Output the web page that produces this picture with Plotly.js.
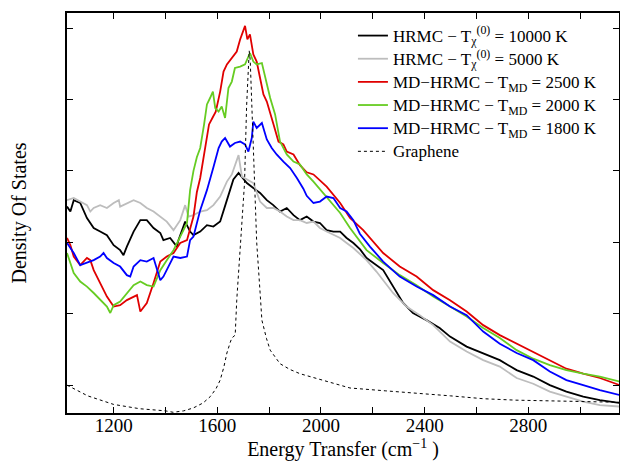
<!DOCTYPE html>
<html>
<head>
<meta charset="utf-8">
<script src="https://cdn.plot.ly/plotly-3.0.1.min.js"></script>
<style>html,body{margin:0;padding:0;background:#fff;}#chart{width:620px;height:461px;}</style>
</head>
<body>
<div id="chart"></div>
<script>
// [energy transfer (cm^-1), density of states (arb. units)]
const hrmc10000 = [[1020,2.50],[1033,2.43],[1046,2.59],[1071,2.55],[1097,2.34],[1123,2.20],[1148,2.15],[1174,2.10],[1200,1.96],[1225,1.89],[1238,1.82],[1251,1.94],[1277,2.15],[1303,2.31],[1328,2.31],[1354,2.20],[1380,2.13],[1392,2.03],[1418,2.06],[1444,1.94],[1450,2.03],[1476,2.29],[1495,2.15],[1508,2.10],[1534,2.15],[1560,2.24],[1585,2.22],[1611,2.29],[1637,2.59],[1662,2.88],[1682,2.97],[1701,2.88],[1714,2.83],[1739,2.76],[1765,2.69],[1791,2.59],[1816,2.52],[1842,2.43],[1868,2.48],[1894,2.38],[1919,2.31],[1945,2.36],[1971,2.29],[1996,2.27],[2022,2.17],[2048,2.15],[2074,2.15],[2099,2.06],[2125,1.99],[2151,1.90],[2176,1.78],[2240,1.61],[2278,1.38],[2317,1.15],[2355,1.01],[2407,0.91],[2458,0.80],[2498,0.68],[2562,0.54],[2626,0.45],[2690,0.35],[2755,0.21],[2819,0.12],[2883,0.00],[2947,-0.09],[3012,-0.16],[3076,-0.21],[3153,-0.25]];
const hrmc5000 = [[1020,2.59],[1046,2.62],[1071,2.57],[1097,2.52],[1110,2.43],[1123,2.48],[1148,2.52],[1174,2.48],[1200,2.55],[1220,2.59],[1225,2.50],[1251,2.55],[1277,2.59],[1303,2.55],[1328,2.48],[1354,2.43],[1380,2.36],[1405,2.29],[1431,2.17],[1457,2.31],[1476,2.52],[1489,2.36],[1508,2.38],[1534,2.43],[1560,2.45],[1585,2.52],[1611,2.64],[1637,2.85],[1656,2.95],[1675,3.16],[1682,3.22],[1695,2.92],[1714,2.88],[1739,2.83],[1765,2.57],[1791,2.48],[1816,2.48],[1842,2.43],[1868,2.36],[1894,2.31],[1919,2.31],[1945,2.27],[1971,2.29],[1996,2.20],[2022,2.15],[2048,2.10],[2074,2.06],[2099,1.99],[2125,1.92],[2176,1.75],[2214,1.59],[2278,1.29],[2330,1.10],[2381,0.98],[2433,0.84],[2498,0.61],[2562,0.47],[2626,0.35],[2690,0.26],[2755,0.10],[2819,0.02],[2883,-0.09],[2947,-0.16],[3012,-0.23],[3076,-0.28],[3153,-0.30]];
const md2500 = [[1020,2.06],[1033,1.96],[1046,1.80],[1071,1.68],[1097,1.78],[1110,1.75],[1123,1.61],[1148,1.43],[1174,1.24],[1200,1.10],[1225,1.12],[1251,1.19],[1277,1.24],[1290,1.26],[1303,1.03],[1328,1.15],[1354,1.43],[1380,1.73],[1405,1.80],[1431,1.85],[1457,1.99],[1483,2.03],[1508,2.36],[1521,2.70],[1534,2.90],[1549,3.23],[1556,3.41],[1568,3.65],[1581,3.74],[1594,3.83],[1611,4.11],[1624,4.39],[1637,4.49],[1656,4.58],[1675,4.67],[1688,4.84],[1707,5.03],[1716,4.84],[1726,4.91],[1739,4.63],[1752,4.53],[1765,4.30],[1778,4.07],[1791,3.97],[1804,3.79],[1817,3.65],[1836,3.41],[1855,3.37],[1868,3.27],[1894,3.23],[1919,3.08],[1945,2.98],[1971,2.95],[2022,2.78],[2074,2.55],[2112,2.34],[2163,2.17],[2240,1.85],[2304,1.66],[2369,1.52],[2433,1.33],[2498,1.19],[2562,1.03],[2626,0.84],[2690,0.70],[2755,0.58],[2819,0.47],[2883,0.35],[2947,0.23],[3012,0.16],[3076,0.10],[3153,0.00]];
const md2000 = [[1020,1.85],[1046,1.57],[1071,1.45],[1097,1.38],[1123,1.29],[1148,1.19],[1174,1.10],[1187,1.01],[1200,1.12],[1225,1.17],[1251,1.29],[1277,1.40],[1303,1.45],[1328,1.40],[1354,1.38],[1380,1.61],[1405,1.75],[1431,1.89],[1457,2.08],[1483,2.27],[1495,2.73],[1508,3.00],[1521,3.19],[1534,3.32],[1549,3.65],[1560,3.93],[1572,4.02],[1583,4.11],[1592,3.88],[1605,3.83],[1617,3.90],[1630,3.74],[1643,4.16],[1656,4.25],[1668,4.44],[1688,4.46],[1707,4.49],[1726,4.65],[1739,4.53],[1752,4.49],[1772,4.51],[1785,4.30],[1804,4.02],[1823,3.79],[1842,3.41],[1868,3.23],[1894,3.13],[1919,3.09],[1945,2.95],[1971,2.85],[2022,2.64],[2074,2.41],[2112,2.20],[2176,1.89],[2240,1.71],[2304,1.54],[2369,1.40],[2433,1.24],[2498,1.10],[2562,0.96],[2626,0.80],[2690,0.66],[2755,0.49],[2819,0.37],[2883,0.28],[2947,0.21],[3012,0.16],[3076,0.12],[3153,0.05]];
const md1800 = [[1020,1.99],[1046,1.85],[1071,1.68],[1097,1.71],[1123,1.75],[1148,1.80],[1161,1.85],[1174,1.78],[1200,1.71],[1225,1.66],[1251,1.54],[1264,1.52],[1277,1.66],[1303,1.75],[1328,1.73],[1354,1.78],[1380,1.47],[1392,1.52],[1405,1.61],[1431,1.80],[1457,1.78],[1483,1.80],[1495,2.03],[1508,2.08],[1534,2.45],[1560,2.73],[1585,3.05],[1605,3.32],[1617,3.41],[1630,3.46],[1649,3.34],[1668,3.39],[1688,3.41],[1707,3.37],[1720,3.27],[1733,3.46],[1739,3.69],[1752,3.60],[1772,3.67],[1791,3.44],[1810,3.32],[1829,3.23],[1855,3.13],[1881,3.04],[1907,2.90],[1932,2.75],[1945,2.65],[1971,2.55],[1996,2.57],[2022,2.64],[2048,2.62],[2074,2.48],[2099,2.43],[2125,2.31],[2150,2.12],[2189,1.94],[2240,1.73],[2304,1.52],[2369,1.38],[2433,1.26],[2498,1.10],[2562,0.98],[2626,0.75],[2690,0.58],[2755,0.45],[2819,0.35],[2883,0.19],[2947,0.07],[3012,0.00],[3076,-0.07],[3153,-0.14]];
const graphene = [[1020,0.00],[1100,-0.15],[1200,-0.27],[1300,-0.33],[1400,-0.36],[1430,-0.38],[1470,-0.36],[1507,-0.32],[1545,-0.25],[1573,-0.16],[1595,-0.05],[1611,0.07],[1625,0.25],[1637,0.45],[1650,0.60],[1656,0.66],[1669,0.70],[1675,1.19],[1688,1.90],[1705,2.83],[1713,3.90],[1719,4.55],[1723,4.68],[1727,4.55],[1733,3.90],[1742,2.83],[1752,2.00],[1765,1.30],[1772,0.91],[1790,0.65],[1804,0.49],[1842,0.30],[1880,0.22],[1919,0.16],[2022,0.05],[2112,-0.04],[2250,-0.08],[2369,-0.11],[2500,-0.15],[2626,-0.19],[2750,-0.21],[2883,-0.22],[3000,-0.23],[3153,-0.24]];

const seriesNames = [
  "HRMC − T<sub>χ</sub><sup>(0)</sup> = 10000 K",
  "HRMC − T<sub>χ</sub><sup>(0)</sup> = 5000 K",
  "MD−HRMC − T<sub>MD</sub> = 2500 K",
  "MD−HRMC − T<sub>MD</sub> = 2000 K",
  "MD−HRMC − T<sub>MD</sub> = 1800 K",
  "Graphene"
];
const xTickVals = [1200,1600,2000,2400,2800];
const xTickText = ["1200","1600","2000","2400","2800"];
const xMinorTickVals = [1400,1800,2200,2600,3000];
const yTickVals = [0,1,2,3,4,5];

const seriesData = [hrmc10000, hrmc5000, md2500, md2000, md1800, graphene];
const colors = ["#000000","#bdbdbd","#e00000","#66cc22","#0000ff","#000000"];
const traces = seriesData.map((d, i) => ({
  type: "scatter", mode: "lines",
  x: d.map(p => p[0]), y: d.map(p => p[1]),
  name: '<span style="font-size:17px">' + seriesNames[i] + '</span>',
  line: i === 5 ? {color: colors[i], width: 1, dash: "3px,3px"} : {color: colors[i], width: 1.8}
}));

const FAM = "Liberation Serif";
const layout = {
  width: 620, height: 461,
  margin: {l: 67, r: 1, t: 13, b: 48},
  paper_bgcolor: "#fff", plot_bgcolor: "#fff",
  font: {family: FAM, size: 20, color: "#000"},
  showlegend: true,
  legend: {x: 0.518, y: 0.985, xanchor: "left", yanchor: "top", bgcolor: "rgba(0,0,0,0)",
           font: {family: FAM, size: 15.5, color: "#000"}, tracegroupgap: 0},
  xaxis: {
    range: [1020, 3150], showgrid: false, zeroline: false,
    showline: true, linecolor: "#000", linewidth: 2, mirror: "ticks",
    ticks: "inside", ticklen: 6, tickwidth: 1, tickcolor: "#000",
    tickmode: "array", tickvals: xTickVals, ticktext: xTickText,
    minor: {tickmode: "array", tickvals: xMinorTickVals, ticks: "inside", ticklen: 6, tickwidth: 1, tickcolor: "#000", showgrid: false},
    ticklabelstandoff: -6,
    tickfont: {family: FAM, size: 19, color: "#000"},
    title: {text: "Energy Transfer (cm<sup>−1</sup> )", font: {family: FAM, size: 20, color: "#000"}, standoff: 11},
    automargin: false
  },
  yaxis: {
    range: [-0.39, 5.21], showgrid: false, zeroline: false,
    showline: true, linecolor: "#000", linewidth: 2, mirror: "ticks",
    ticks: "inside", ticklen: 6, tickwidth: 1, tickcolor: "#000",
    tickmode: "array", tickvals: yTickVals, showticklabels: false,
    title: {text: "Density Of States", font: {family: FAM, size: 20, color: "#000"}, standoff: 33},
    automargin: false
  }
};
Plotly.newPlot("chart", traces, layout, {staticPlot: true, displayModeBar: false});
</script>
</body>
</html>
